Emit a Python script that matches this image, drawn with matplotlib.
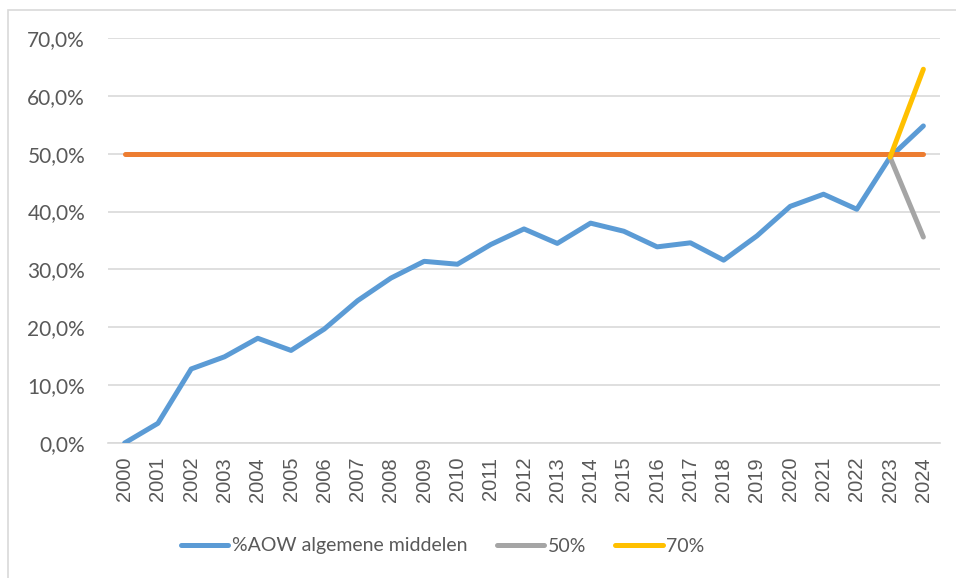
import matplotlib
matplotlib.use("Agg")
import matplotlib.pyplot as plt
from matplotlib.patches import Rectangle
from matplotlib.ticker import FuncFormatter

years = [str(y) for y in range(2000, 2025)]
aow = [0.0, 3.4, 12.8, 14.9, 18.1, 16.0, 19.7, 24.6, 28.5, 31.4, 30.9,
       34.3, 37.0, 34.5, 38.0, 36.6, 33.9, 34.6, 31.6, 35.8, 40.9,
       43.0, 40.4, 49.4, 54.8]
ref50 = [50.0] * 25
scen50_years = ["2023", "2024"]
scen50 = [49.4, 35.6]
scen70 = [49.4, 64.6]
yticks = [0, 10, 20, 30, 40, 50, 60, 70]

W, H = 956, 578
fig = plt.figure(figsize=(W / 100, H / 100), dpi=100)
fig.patch.set_facecolor("white")
fig.patches.append(Rectangle((8 / W, -0.1), 1.2, 1.1 - 10 / H,
                             transform=fig.transFigure, fill=False,
                             edgecolor="#d9d9d9", linewidth=1.2))

ax = fig.add_axes([108 / W, (H - 443) / H, (940 - 108) / W, (443 - 38) / H])
x = list(range(len(years)))
idx = {y: i for i, y in enumerate(years)}
xs = [idx[y] for y in scen50_years]

lw = 3.6
ax.plot(x, aow, color="#5b9bd5", lw=lw, solid_capstyle="round", solid_joinstyle="round",
        label="%AOW algemene middelen", zorder=3)
ax.plot(x, ref50, color="#ed7d31", lw=lw, solid_capstyle="round", zorder=4)
ax.plot(xs, scen50, color="#a5a5a5", lw=lw, solid_capstyle="round", label="50%", zorder=5)
ax.plot(xs, scen70, color="#ffc000", lw=lw, solid_capstyle="round", label="70%", zorder=6)

ax.set_xlim(-0.5, len(years) - 0.5)
ax.set_ylim(0, 70)
ax.set_yticks(yticks)
ax.yaxis.set_major_formatter(FuncFormatter(lambda v, p: f"{v:.1f}%".replace(".", ",")))
ax.set_xticks(x)
ax.set_xticklabels(years, rotation=90, family="Liberation Sans", fontsize=14.5, color="#595959")
ax.grid(axis="y", color="#d9d9d9", lw=1.2)
ax.set_axisbelow(True)
for s in ["top", "right", "left"]:
    ax.spines[s].set_visible(False)
ax.spines["bottom"].set_color("#d9d9d9")
ax.spines["bottom"].set_linewidth(1.2)
ax.tick_params(axis="y", length=0, pad=16.5, labelsize=15, labelcolor="#595959")
ax.tick_params(axis="x", length=0, pad=10)
for t in ax.get_yticklabels():
    t.set_family("Lato")

leg = fig.legend(loc="center", bbox_to_anchor=(443 / W, (H - 546) / H), ncol=3, frameon=False,
                 prop={"family": "Lato", "size": 14}, labelcolor="#595959",
                 handlelength=2.42, handletextpad=0.2, columnspacing=1.5)

fig.savefig("out.png", dpi=100)
